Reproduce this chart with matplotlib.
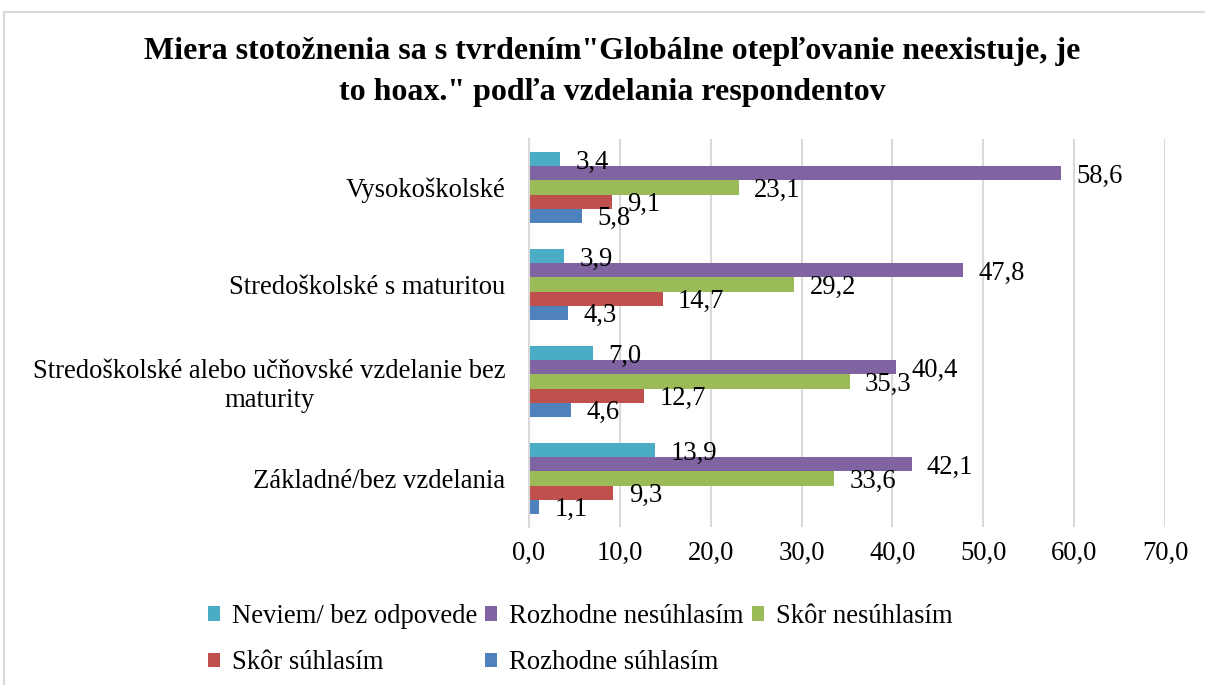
import matplotlib.pyplot as plt
import numpy as np
from matplotlib.patches import Rectangle
from matplotlib.ticker import FuncFormatter

plt.rcParams['font.family'] = ['Liberation Serif', 'DejaVu Serif']

categories = ['Základné/bez vzdelania',
              'Stredoškolské alebo učňovské vzdelanie bez\nmaturity',
              'Stredoškolské s maturitou',
              'Vysokoškolské']
series = ['Neviem/ bez odpovede', 'Rozhodne nesúhlasím', 'Skôr nesúhlasím',
          'Skôr súhlasím', 'Rozhodne súhlasím']
neviem = [13.9, 7.0, 3.9, 3.4]
rozhodne_nesuhlasim = [42.1, 40.4, 47.8, 58.6]
skor_nesuhlasim = [33.6, 35.3, 29.2, 23.1]
skor_suhlasim = [9.3, 12.7, 14.7, 9.1]
rozhodne_suhlasim = [1.1, 4.6, 4.3, 5.8]
colors = ['#4BACC6', '#8064A2', '#9BBB59', '#C0504D', '#4F81BD']

values = [neviem, rozhodne_nesuhlasim, skor_nesuhlasim, skor_suhlasim, rozhodne_suhlasim]
fs = 19.2

fig = plt.figure(figsize=(12.05, 6.85), dpi=100)
ax = fig.add_axes([529 / 1205, 1 - 527 / 685, (1165 - 529) / 1205, (527 - 139) / 685])

# chart frame
fig.patches.append(Rectangle((4 / 1205, -0.05), 1.1, 1 - 12 / 685 + 0.05,
                             transform=fig.transFigure, fill=False,
                             edgecolor='#D9D9D9', linewidth=1.5))

y = np.arange(len(categories))
h = 0.145
bars = []
for i, (vals, c, name) in enumerate(zip(values, colors, series)):
    pos = y + (2 - i) * h
    b = ax.barh(pos, vals, height=h, color=c, label=name, zorder=3)
    bars.append(b)
    for p, v in zip(pos, vals):
        ax.annotate(f'{v:.1f}'.replace('.', ','), (v, p), xytext=(11, -2),
                    textcoords='offset points', ha='left', va='center',
                    fontsize=fs, zorder=4)

ax.set_xlim(0, 70)
ax.set_ylim(-0.5, 3.5)
ax.set_xticks(np.arange(0, 71, 10))
ax.xaxis.set_major_formatter(FuncFormatter(lambda v, p: f'{v:.1f}'.replace('.', ',')))
ax.set_yticks(y)
ax.set_yticklabels(categories, multialignment='center')
ax.tick_params(axis='x', length=0, pad=10, labelsize=fs)
ax.tick_params(axis='y', length=0, pad=17, labelsize=fs)
ax.grid(axis='x', color='#D9D9D9', linewidth=1.5, zorder=0)
for s in ['top', 'right', 'bottom']:
    ax.spines[s].set_visible(False)
ax.spines['left'].set_color('#D9D9D9')
ax.spines['left'].set_linewidth(1.5)
ax.spines['left'].set_zorder(5)

fig.text(0.508, 1 - 72 / 685,
         'Miera stotožnenia sa s tvrdením"Globálne otepľovanie neexistuje, je\n'
         'to hoax." podľa vzdelania respondentov',
         ha='center', va='center', fontsize=23, fontweight='bold', linespacing=1.52)

order = [0, 3, 1, 4, 2]
handles = [bars[k] for k in order]
labels = [series[k] for k in order]
fig.legend(handles, labels, loc='upper left', bbox_to_anchor=(208 / 1205, 1 - 604 / 685),
           ncol=3, frameon=False, fontsize=fs, borderpad=0, borderaxespad=0,
           handlelength=0.45, handleheight=0.45, handletextpad=0.45,
           columnspacing=0.3, labelspacing=0.8)

fig.savefig('out.png', dpi=100)
